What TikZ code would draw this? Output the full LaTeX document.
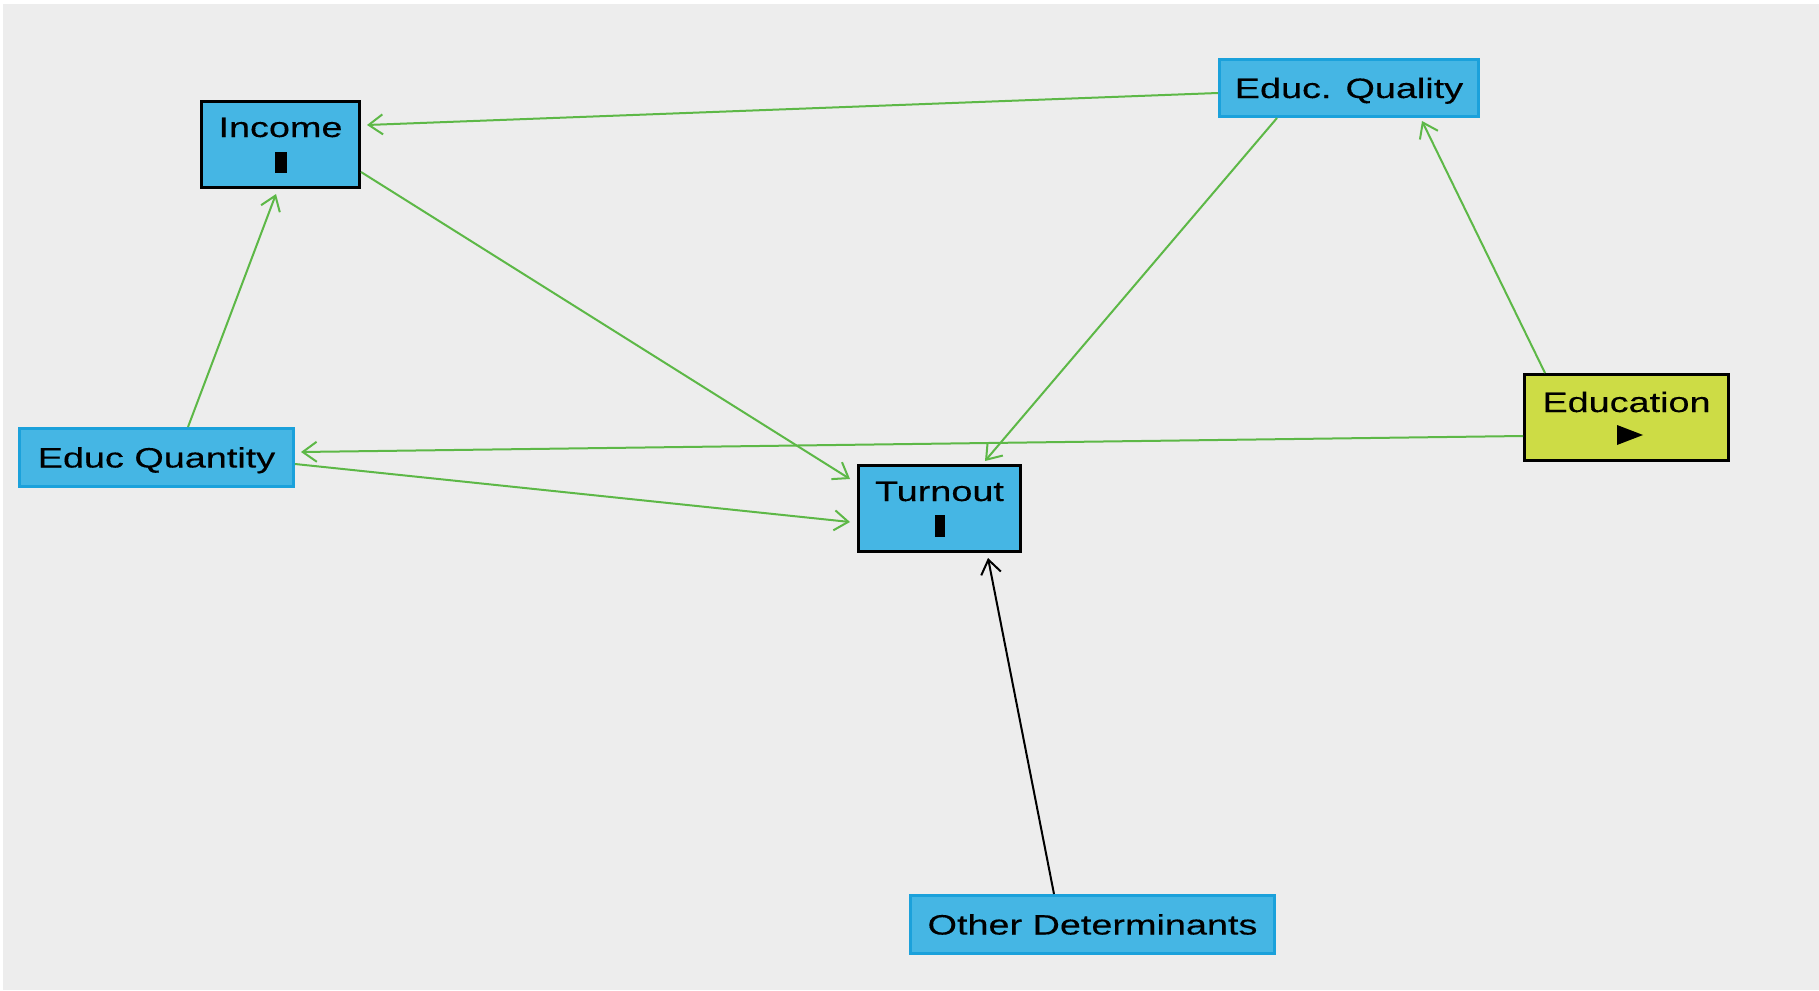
\documentclass[tikz,border=0pt]{standalone}
\usepackage{fontspec}
\usetikzlibrary{arrows.meta,calc}
\newfontfamily\labfont[FakeStretch=1.35,FakeBold=0.3]{Liberation Sans}
\definecolor{bg}{HTML}{EDEDED}
\definecolor{boxblue}{HTML}{45B6E4}
\definecolor{edgeblue}{HTML}{1BA1DB}
\definecolor{limefill}{HTML}{CDDC45}
\definecolor{arrowgreen}{HTML}{5DB847}
\tikzset{
  box/.style={rectangle, inner sep=0pt, line width=1.5pt, fill=boxblue},
  blackbox/.style={box, draw=black},
  bluebox/.style={box, draw=edgeblue},
  limebox/.style={box, draw=black, fill=limefill},
  lab/.style={font=\labfont\fontsize{14}{17}\selectfont, text height=10pt, text depth=0pt, inner sep=0pt},
  conn/.style={line width=1pt, draw=arrowgreen, -{Straight Barb[length=7pt,width=10pt]}},
  blackconn/.style={conn, draw=black}
}
\begin{document}
\begin{tikzpicture}[x=0.5pt,y=-0.5pt]
\useasboundingbox (0,0) rectangle (1819,990);
\fill[white] (0,0) rectangle (1819,990);
\fill[bg] (3,4) rectangle (1819,990);

% boxes
\node[blackbox, minimum width=79pt, minimum height=43pt] (inc) at (280.5,144.5) {};
\node[blackbox, minimum width=81pt, minimum height=43pt] (tur) at (939.5,508.5) {};
\node[limebox, minimum width=102pt, minimum height=43pt] (edu) at (1626.5,417.5) {};
\node[bluebox, minimum width=137pt, minimum height=29pt] (qty) at (156.5,457.5) {};
\node[bluebox, minimum width=129.5pt, minimum height=28.5pt] (qal) at (1349,88) {};
\node[bluebox, minimum width=182pt, minimum height=29pt] (oth) at (1092.5,924.5) {};

% labels
\node[lab] (incL) at ($(inc.center)+(0,-17.5)$) {Income};
\node[lab] (turL) at ($(tur.center)+(0,-17.5)$) {Turnout};
\node[lab] (eduL) at ($(edu.center)+(0,-15.5)$) {Education};
\node[lab] (qtyL) at (qty.center) {Educ Quantity};
\node[lab] (qalL) at (qal.center) {Educ. Quality};
\node[lab] (othL) at (oth.center) {Other Determinants};

% markers
\fill ($(inc.center)+(-5.5,7)$) rectangle ($(inc.center)+(6.5,28)$);
\fill ($(tur.center)+(-4.5,6.5)$) rectangle ($(tur.center)+(5.5,28.5)$);
\fill ($(edu.center)+(-9.5,7.5)$) -- ($(edu.center)+(16.5,17.5)$) -- ($(edu.center)+(-9.5,27.5)$) -- cycle;

% connectors
\draw[conn] ($(qal.west)+(0,5)$) -- ($(inc.east)+(6,-19.5)$);
\draw[conn] ($(inc.east)+(0,27.5)$) -- ($(tur.west)+(-7,-29.5)$);
\draw[conn] ($(qal.south)+(-72,0)$) -- ($(tur.north)+(45.5,-3)$);
\draw[conn] ($(edu.north)+(-81.5,0)$) -- ($(qal.south)+(73,3)$);
\draw[conn] ($(edu.west)+(0,18.5)$) -- ($(qty.east)+(6,-5.5)$);
\draw[conn] ($(qty.north)+(31.5,0)$) -- ($(inc.south)+(-4.5,5)$);
\draw[conn] ($(qty.east)+(0,6.5)$) -- ($(tur.west)+(-7,13.5)$);
\draw[blackconn] ($(oth.north)+(-38.5,0)$) -- ($(tur.south)+(48.5,5)$);
\end{tikzpicture}
\end{document}
